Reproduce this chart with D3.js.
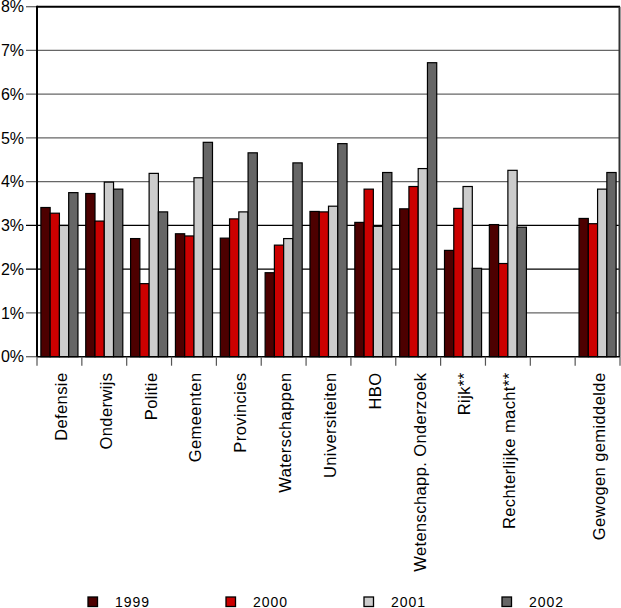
<!DOCTYPE html>
<html><head><meta charset="utf-8">
<script src="https://cdn.jsdelivr.net/npm/d3@7"></script>
<style>body{margin:0;background:#fff}svg{display:block}text{font-family:"Liberation Sans",Arial,sans-serif;fill:#000}</style>
</head><body><svg id="c" width="621" height="608"></svg>
<script>
const categories = ["Defensie","Onderwijs","Politie","Gemeenten","Provincies","Waterschappen","Universiteiten","HBO","Wetenschapp. Onderzoek","Rijk**","Rechterlijke macht**"," ","Gewogen gemiddelde"];
const years = ["1999","2000","2001","2002"];
const v1999 = [3.41,3.73,2.70,2.81,2.71,1.92,3.32,3.07,3.38,2.43,3.02,null,3.16];
const v2000 = [3.28,3.10,1.67,2.76,3.15,2.55,3.31,3.83,3.89,3.39,2.13,null,3.04];
const v2001 = [3.00,3.99,4.19,4.09,3.31,2.70,3.44,2.98,4.30,3.89,4.26,null,3.83];
const v2002 = [3.75,3.83,3.31,4.90,4.66,4.43,4.87,4.21,6.72,2.02,2.96,null,4.21];
const yTicks = [0,1,2,3,4,5,6,7,8];
const colors = ["#4d0000","#cc0000","#cccccc","#666666"];
const series = [v1999,v2000,v2001,v2002];

const svg = d3.select("#c");
const x = d3.scaleBand().domain(categories).range([37,620]).paddingInner(0).paddingOuter(0);
const xs = d3.scaleBand().domain(years).range([0,x.bandwidth()]).paddingInner(0).paddingOuter(0.42);
const y = d3.scaleLinear().domain([0,8]).range([356.7,6.7]);

// gridlines
svg.append("g").selectAll("line").data(yTicks.filter(t=>t>0&&t<8)).join("line")
  .attr("x1",26).attr("x2",620).attr("y1",d=>y(d)).attr("y2",d=>y(d))
  .attr("stroke",d=>(d===2||d===3)?"#000":"#666").attr("stroke-width",1.3);
// y tick labels
svg.append("g").selectAll("text").data(yTicks).join("text")
  .attr("x",24).attr("y",d=>y(d)).attr("dy","0.36em").attr("text-anchor","end")
  .style("font-size","16px").text(d=>d+"%");
svg.append("line").attr("x1",26).attr("x2",37).attr("y1",y(8)).attr("y2",y(8)).attr("stroke","#666").attr("stroke-width",1.3);
svg.append("line").attr("x1",26).attr("x2",37).attr("y1",y(0)).attr("y2",y(0)).attr("stroke","#666").attr("stroke-width",1.3);

// bars
series.forEach((s,i)=>{
  svg.append("g").selectAll("rect").data(categories.map((c,j)=>({c,v:s[j]})).filter(d=>d.v!=null)).join("rect")
    .attr("x",d=>x(d.c)+xs(years[i])).attr("width",xs.bandwidth())
    .attr("y",d=>y(d.v)).attr("height",d=>y(0)-y(d.v))
    .attr("fill",colors[i]).attr("stroke","#000").attr("stroke-width",1.2);
});

// frame
svg.append("line").attr("x1",37).attr("x2",620).attr("y1",y(8)).attr("y2",y(8)).attr("stroke","#000").attr("stroke-width",2);
svg.append("line").attr("x1",619.5).attr("x2",619.5).attr("y1",y(8)).attr("y2",y(0)).attr("stroke","#333").attr("stroke-width",2);
svg.append("line").attr("x1",37).attr("x2",37).attr("y1",y(8)-1).attr("y2",y(0)).attr("stroke","#000").attr("stroke-width",2);
svg.append("line").attr("x1",37).attr("x2",620).attr("y1",y(0)).attr("y2",y(0)).attr("stroke","#000").attr("stroke-width",1.5);

// x ticks at band boundaries
const bounds = categories.map(c=>x(c)).concat([x.range()[1]]);
svg.append("g").selectAll("line").data(bounds).join("line")
  .attr("x1",d=>d).attr("x2",d=>d).attr("y1",y(0)).attr("y2",y(0)+9)
  .attr("stroke","#555").attr("stroke-width",1.2);

// category labels
svg.append("g").selectAll("text").data(categories).join("text")
  .attr("transform",d=>`translate(${x(d)+x.bandwidth()/2+1.5},372.5) rotate(-90)`)
  .attr("text-anchor","end").attr("dy","0.36em")
  .style("font-size","16.5px").style("letter-spacing","0.4px").text(d=>d.trim());

// legend
const lg = svg.append("g").selectAll("g").data(years).join("g")
  .attr("transform",(d,i)=>`translate(${88+i*138},597)`);
lg.append("rect").attr("width",9.5).attr("height",9.5).attr("fill",(d,i)=>colors[i]).attr("stroke","#000").attr("stroke-width",1.3);
lg.append("text").attr("x",27).attr("y",9.8).style("font-size","14px").style("letter-spacing","1px").text(d=>d);
</script></body></html>
